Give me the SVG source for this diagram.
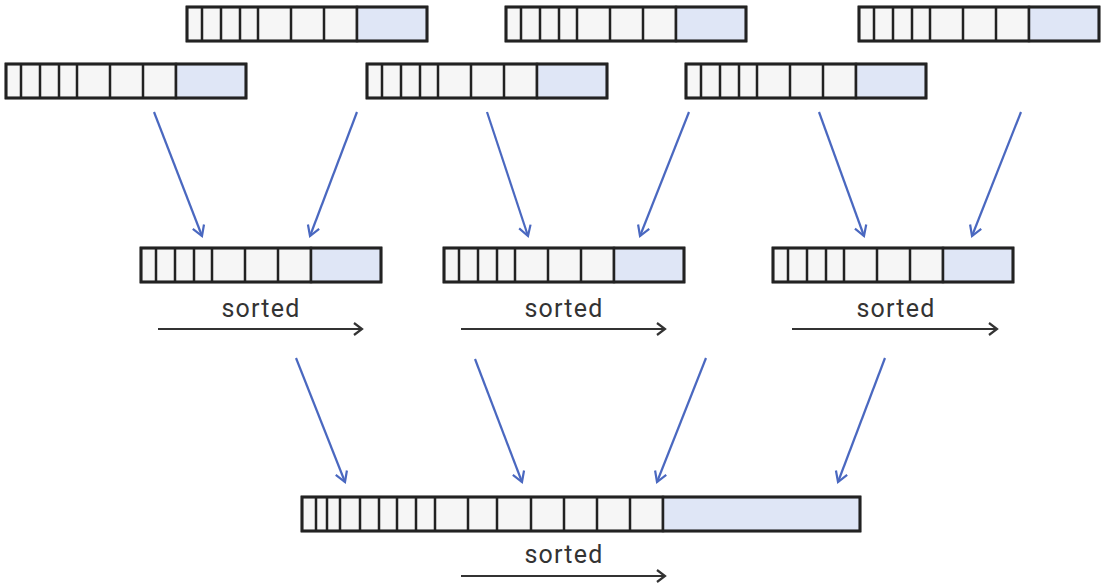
<svg xmlns="http://www.w3.org/2000/svg" width="1103" height="586" viewBox="0 0 1103 586">
<style>
.c{fill:#f6f6f6;stroke:#222;stroke-width:2.5}
.b{fill:#dfe6f6;stroke:#222;stroke-width:2.5}
.o{fill:none;stroke:#222;stroke-width:2.8}
.a{stroke:#4a68c0;stroke-width:2.2;fill:none}
.s{stroke:#333;stroke-width:2.2;fill:none}
.t{font-family:Roboto,"Liberation Sans",sans-serif;font-size:25px;letter-spacing:1.2px;fill:#333;text-anchor:middle}
</style>
<defs>
<marker id="ah" markerUnits="userSpaceOnUse" markerWidth="24" markerHeight="24" refX="12" refY="12" orient="auto" overflow="visible">
<path d="M2,6 L12,12 L2,18" fill="none" stroke="#4a68c0" stroke-width="2.2"/>
</marker>
<marker id="sh" markerUnits="userSpaceOnUse" markerWidth="24" markerHeight="24" refX="12" refY="12" orient="auto" overflow="visible">
<path d="M4,6 L12,12 L4,18" fill="none" stroke="#333" stroke-width="2.2"/>
</marker>
<g id="arr">
<rect class="c" x="0" y="0" width="170" height="34"/>
<path class="c" d="M15,0V34M34,0V34M53,0V34M71,0V34M104,0V34M137,0V34"/>
<rect class="b" x="170" y="0" width="70" height="34"/>
<rect class="o" x="0" y="0" width="240" height="34"/>
</g>
</defs>
<g id="top1"><use href="#arr" x="187" y="7"/></g>
<g id="top2"><use href="#arr" x="506" y="7"/></g>
<g id="top3"><use href="#arr" x="859" y="7"/></g>
<g id="sec1"><use href="#arr" x="6" y="64"/></g>
<g id="sec2"><use href="#arr" x="367" y="64"/></g>
<g id="sec3"><use href="#arr" x="686" y="64"/></g>
<g id="mid1"><use href="#arr" x="141" y="248"/>
<text class="t" x="261" y="317">sorted</text>
<line class="s" x1="158" y1="329" x2="362" y2="329" marker-end="url(#sh)"/></g>
<g id="mid2"><use href="#arr" x="444" y="248"/>
<text class="t" x="564" y="317">sorted</text>
<line class="s" x1="461" y1="329" x2="665" y2="329" marker-end="url(#sh)"/></g>
<g id="mid3"><use href="#arr" x="773" y="248"/>
<text class="t" x="896" y="317">sorted</text>
<line class="s" x1="792" y1="329" x2="997" y2="329" marker-end="url(#sh)"/></g>
<g id="bottom">
<rect class="c" x="302" y="497" width="361" height="34"/>
<path class="c" d="M316,497V531M327,497V531M340,497V531M360,497V531M379,497V531M397,497V531M416,497V531M435,497V531M468,497V531M497,497V531M531,497V531M564,497V531M597,497V531M630,497V531"/>
<rect class="b" x="663" y="497" width="197" height="34"/>
<rect class="o" x="302" y="497" width="558" height="34"/>
<text class="t" x="564" y="563">sorted</text>
<line class="s" x1="461" y1="576" x2="665" y2="576" marker-end="url(#sh)"/>
</g>
<g id="connectors">
<line class="a" x1="154" y1="112" x2="202" y2="236" marker-end="url(#ah)"/>
<line class="a" x1="357" y1="112" x2="310" y2="236" marker-end="url(#ah)"/>
<line class="a" x1="487" y1="112" x2="528" y2="236" marker-end="url(#ah)"/>
<line class="a" x1="689" y1="112" x2="640" y2="236" marker-end="url(#ah)"/>
<line class="a" x1="819" y1="112" x2="864" y2="236" marker-end="url(#ah)"/>
<line class="a" x1="1021" y1="112" x2="972" y2="236" marker-end="url(#ah)"/>
<line class="a" x1="296" y1="358" x2="345" y2="482" marker-end="url(#ah)"/>
<line class="a" x1="475" y1="359" x2="522" y2="482" marker-end="url(#ah)"/>
<line class="a" x1="706" y1="358" x2="657" y2="482" marker-end="url(#ah)"/>
<line class="a" x1="885" y1="358" x2="838" y2="482" marker-end="url(#ah)"/>
</g>
</svg>
